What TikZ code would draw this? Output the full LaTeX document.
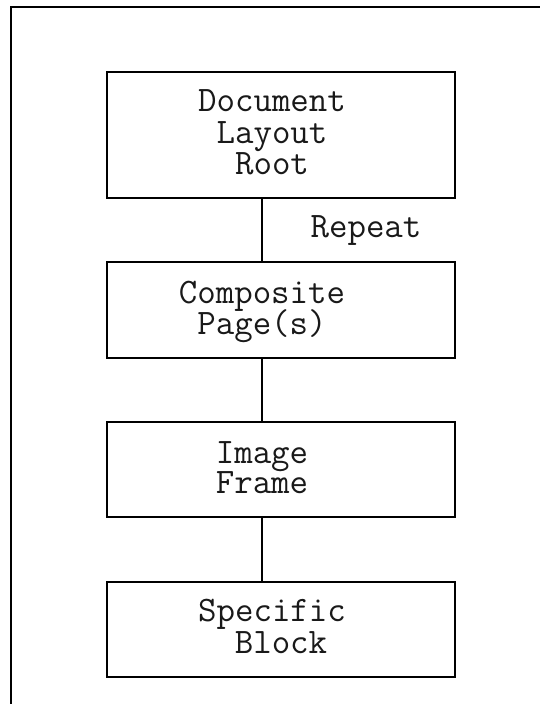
\documentclass[tikz,border=0pt]{standalone}
\begin{document}
\begin{tikzpicture}[x=1bp,y=-1bp,
  boxstyle/.style={draw=black, line width=1.8bp, minimum width=348bp, inner sep=0pt},
  txt/.style={font=\fontsize{36}{31}\ttfamily, inner sep=0pt, anchor=base, text=black!90, text height=20bp, text depth=4bp},
  conn/.style={draw=black, line width=1.4bp}]
\useasboundingbox (0,0) rectangle (540,704);
% outer frame (left and top only)
\coordinate (fa) at (11,704);
\coordinate (fb) at (11,7);
\coordinate (fc) at (540,7);
\draw[line width=2bp] (fa) -- (fb) -- (fc);
% boxes
\node[boxstyle, minimum height=126bp] (b1) at (281,135) {};
\node[boxstyle, minimum height=96bp] (b2) at (281,310) {};
\node[boxstyle, minimum height=95bp] (b3) at (281,469.5) {};
\node[boxstyle, minimum height=95bp] (b4) at (281,629.5) {};
% texts
\node[txt] (t1a) at (272,112) {Document};
\node[txt] (t1b) at (272,143) {Layout};
\node[txt] (t1c) at (272,174) {Root};
\node[txt] (rep) at (366,237) {Repeat};
\node[txt] (t2a) at (262,303) {Composite};
\node[txt] (t2b) at (262,334) {Page(s)};
\node[txt] (t3a) at (262,463) {Image};
\node[txt] (t3b) at (262,493) {Frame};
\node[txt] (t4a) at (272,621) {Specific};
\node[txt] (t4b) at (281,653) {Block};
% connectors
\coordinate (cx) at (262,0);
\draw[conn] (b1.south -| cx) -- (b2.north -| cx);
\draw[conn] (b2.south -| cx) -- (b3.north -| cx);
\draw[conn] (b3.south -| cx) -- (b4.north -| cx);
\end{tikzpicture}
\end{document}
